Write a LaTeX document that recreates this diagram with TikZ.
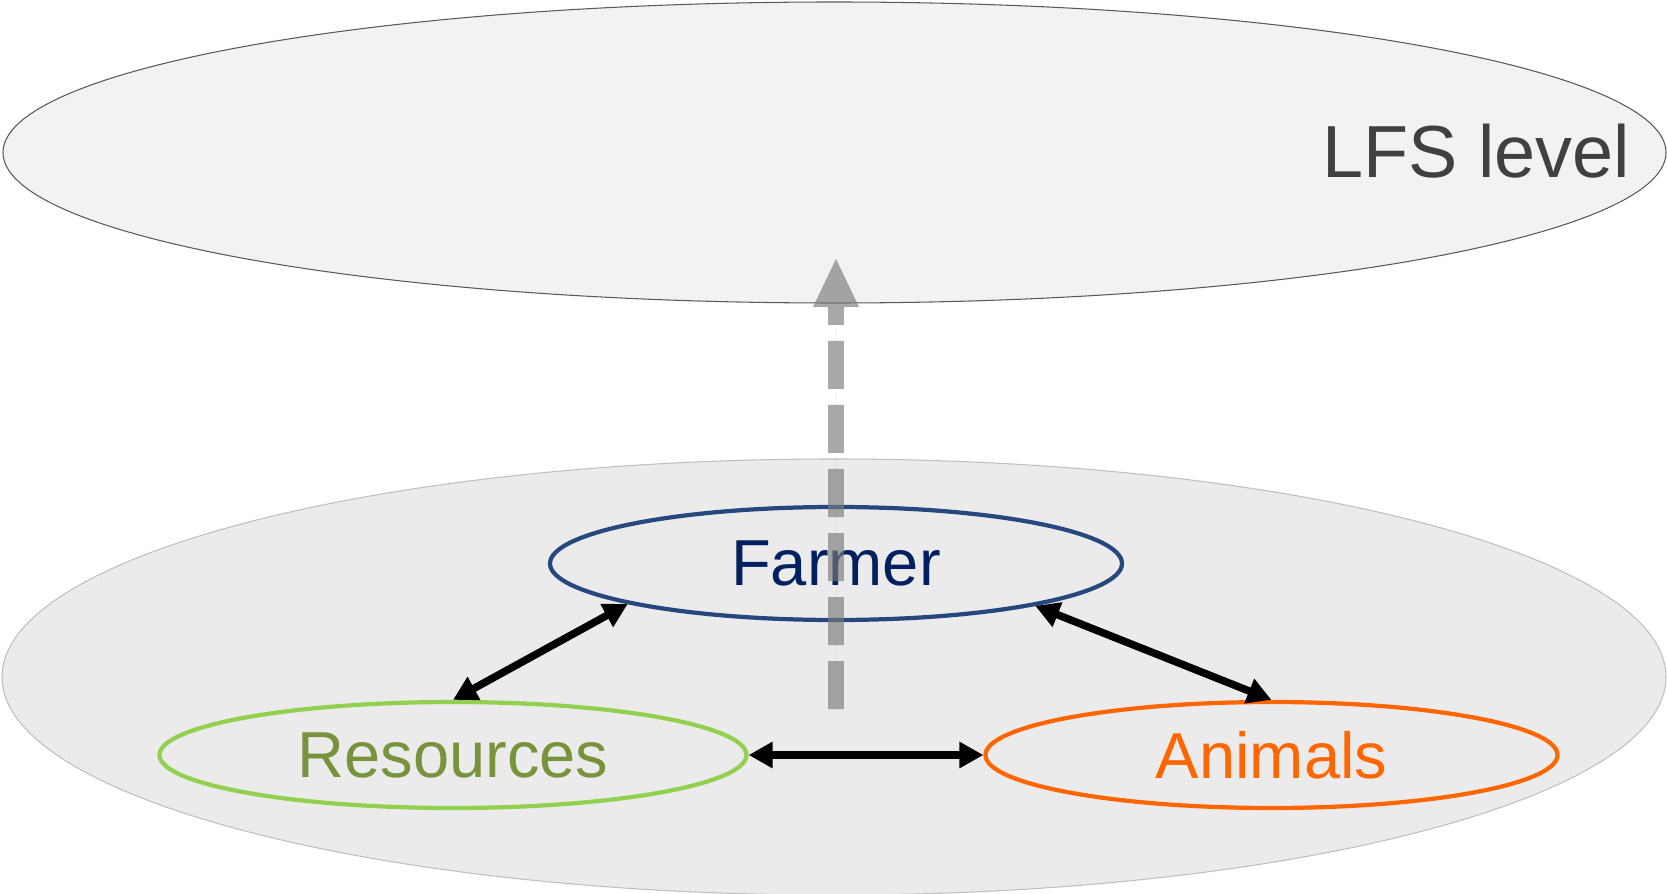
\documentclass[tikz,border=0pt]{standalone}
\usepackage{fontspec}
\setmainfont{Liberation Sans}
\usetikzlibrary{arrows.meta,positioning,shapes.geometric}

\definecolor{farmerblue}{HTML}{25497F}
\definecolor{farmertext}{HTML}{002060}
\definecolor{resgreen}{HTML}{92D050}
\definecolor{restext}{HTML}{77933C}
\definecolor{aniorange}{HTML}{FF6600}

\begin{document}
\begin{tikzpicture}[
  level/.style={ellipse, inner sep=0pt},
  part/.style={ellipse, draw, line width=2.4pt, inner sep=0pt, minimum width=11.44cm, minimum height=2.12cm, font=\fontsize{37}{40}\selectfont},
  link/.style={{Triangle[length=4.8mm,width=5mm]}-{Triangle[length=4.8mm,width=5mm]}, line width=4.3pt},
  up/.style={-{Triangle[length=9.6mm,width=9.2mm,line width=0pt]}, line width=9pt, draw=black!52, fill=black!52, dash pattern=on 9.6mm off 3.2mm}
]
\useasboundingbox (0,0) rectangle (33.34,17.86);

% levels
\node[level, draw=black!65, line width=0.6pt, fill=black!5, minimum width=33.26cm, minimum height=6.02cm] (lfs) at (16.69,14.81) {};
\node[font=\fontsize{42}{45}\selectfont, text=black!75] (lfslabel) at (29.53,14.83) {LFS level};
\node[level, draw=black!25, line width=0.6pt, fill=black!8, minimum width=33.28cm, minimum height=8.72cm] (farm) at (16.68,4.32) {};

% farm components
\node[part, draw=farmerblue, text=farmertext, minimum height=2.26cm] (farmer) at (16.72,6.59) {Farmer};
\node[part, draw=resgreen, text=restext, minimum width=11.74cm] (res) at (9.06,2.76) {Resources};
\node[part, draw=aniorange, text=aniorange] (ani) at (25.43,2.76) {Animals};

% interactions
\draw[link] (res.north) -- (farmer.191.4);
\draw[link] (ani.north) -- (farmer.348.8);
\draw[link] (res.east) -- (ani.west);

% upscaling
\coordinate (upbase) at (16.72,3.68);
\coordinate (uptip) at (16.72,12.68);
\begin{scope}[transparency group, opacity=0.65]
  \draw[up] (upbase) -- (uptip);
\end{scope}

\end{tikzpicture}
\end{document}
